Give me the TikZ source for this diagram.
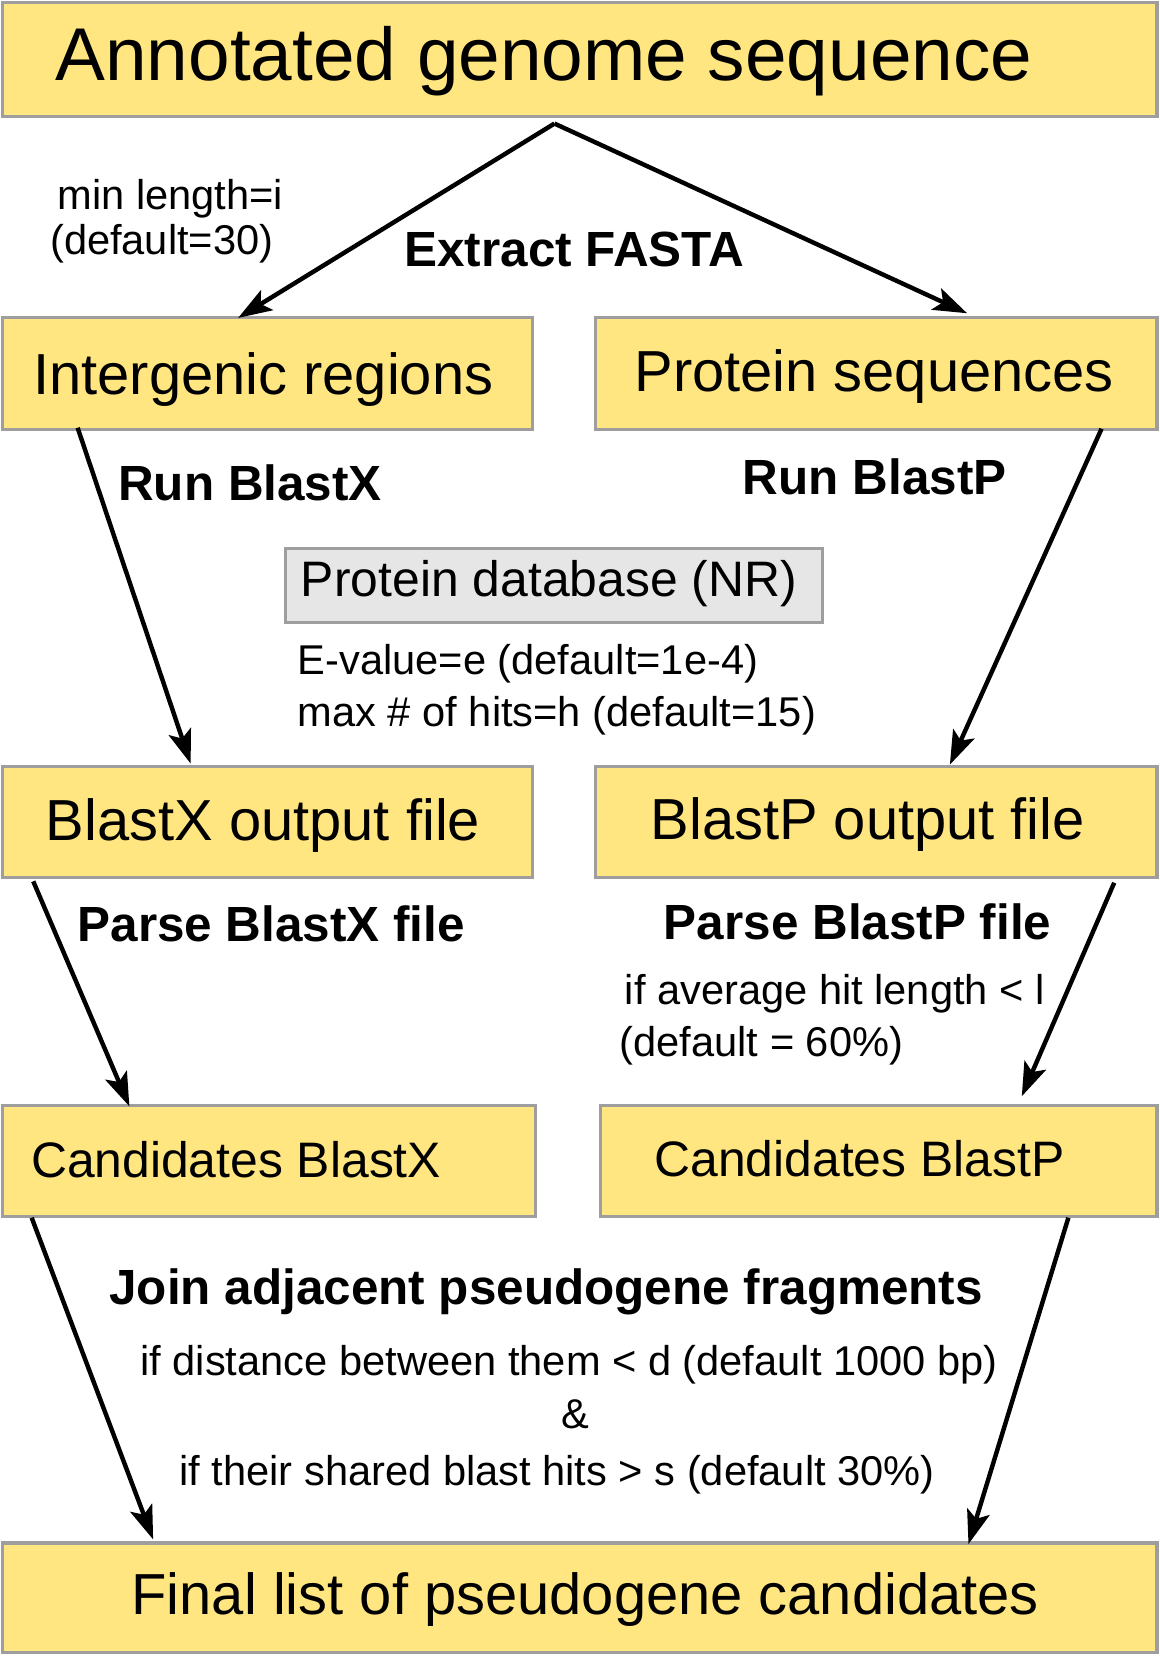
\documentclass[tikz,border=0pt]{standalone}
\usepackage{fontspec}
\setmainfont{Liberation Sans}
\usetikzlibrary{fit,calc,arrows.meta}
\definecolor{boxyellow}{HTML}{FFE680}
\definecolor{boxgray}{HTML}{E6E6E6}
\definecolor{edgegray}{HTML}{9E9E9E}
\begin{document}
\begin{tikzpicture}[x=0.5pt,y=-0.5pt,
  box/.style={draw=edgegray,line width=1.5pt,fill=boxyellow,inner sep=0pt,outer sep=0pt,rectangle},
  dbbox/.style={box,fill=boxgray},
  txt/.style={anchor=base west,inner sep=0pt,outer sep=0pt},
  huge/.style={txt,font=\fontsize{35.4}{40}\selectfont},
  big/.style={txt,font=\fontsize{27.4}{32}\selectfont},
  mid/.style={txt,font=\fontsize{23.6}{28}\selectfont},
  small/.style={txt,font=\fontsize{19.7}{24}\selectfont},
  lbl/.style={txt,font=\fontsize{23.4}{28}\selectfont\bfseries},
  arr/.style={line width=2.1pt,-{Stealth[length=16pt,width=11pt,inset=3.5pt]}}
]
\useasboundingbox (0,0) rectangle (1098,1568);
% boxes
\node[box,fit={(2.5,2.5)(1095.5,110.5)}] (title) {};
\node[box,fit={(2.5,301)(504.5,407)}] (intergenic) {};
\node[box,fit={(564,301)(1095.5,407)}] (protein) {};
\node[dbbox,fit={(270,519)(778.5,589.4)}] (db) {};
\node[box,fit={(2.5,726)(504.5,831)}] (blastxout) {};
\node[box,fit={(564,726)(1095.5,831)}] (blastpout) {};
\node[box,fit={(2.5,1046.5)(507,1152)}] (candx) {};
\node[box,fit={(568.5,1046.5)(1095.5,1152)}] (candp) {};
\node[box,fit={(2.5,1461)(1095.5,1565)}] (final) {};
% box texts
\node[huge] (titletext) at (52.5,76) {Annotated genome sequence};
\node[big] (intergenictext) at (31.5,374) {Intergenic regions};
\node[big] (proteintext) at (600.7,370.7) {Protein sequences};
\node[mid] (dbtext) at (285,564.8) {Protein database (NR)};
\node[big] (blastxouttext) at (43.4,796) {BlastX output file};
\node[big] (blastpouttext) at (616,795) {BlastP output file};
\node[mid] (candxtext) at (29.4,1114.7) {Candidates BlastX};
\node[mid] (candptext) at (619.6,1113.8) {Candidates BlastP};
\node[big] (finaltext) at (124.6,1528.6) {Final list of pseudogene candidates};
% labels
\node[lbl] (extract) at (383,252) {Extract FASTA};
\node[small] (minlen) at (54.6,198.8) {min length=i};
\node[small] (def30) at (47.5,241) {(default=30)};
\node[lbl] (runx) at (112,474) {Run BlastX};
\node[lbl] (runp) at (703.5,468.5) {Run BlastP};
\node[small] (evalue) at (282,638.9) {E-value=e (default=1e-4)};
\node[small] (maxhits) at (282,687.8) {max \# of hits=h (default=15)};
\node[lbl] (parsex) at (73.5,891.3) {Parse BlastX file};
\node[lbl] (parsep) at (628.7,889.7) {Parse BlastP file};
\node[small] (avg) at (591.6,951.3) {if average hit length < l};
\node[small] (def60) at (586.8,1000.2) {(default = 60\%)};
\node[lbl] (join) at (103.6,1235.2) {Join adjacent pseudogene fragments};
\node[small] (dist) at (133,1302.4) {if distance between them < d (default 1000 bp)};
\node[small] (amp) at (532,1352.9) {\&};
\node[small] (shared) at (170,1406.5) {if their shared blast hits > s (default 30\%)};
% connectors
\draw[arr] ($(title.south west)+(522.5,6.5)$) -- ($(intergenic.north west)+(223,0)$);
\draw[arr] ($(title.south west)+(522.5,6.5)$) -- ($(protein.north west)+(351.7,-4.4)$);
\draw[arr] ($(intergenic.south west)+(71,-2)$) -- ($(blastxout.north west)+(178,-3)$);
\draw[arr] ($(protein.south west)+(479,-1)$) -- ($(blastpout.north west)+(335.4,-2)$);
\draw[arr] ($(blastxout.south west)+(29,3.5)$) -- ($(candx.north west)+(120,1)$);
\draw[arr] ($(blastpout.south west)+(491,4.8)$) -- ($(candp.north west)+(399,-8.5)$);
\draw[arr] ($(candx.south west)+(27.5,1)$) -- ($(final.north west)+(142.5,-3.4)$);
\draw[arr] ($(candp.south west)+(443.1,1)$) -- ($(final.north west)+(914.5,1)$);
\end{tikzpicture}
\end{document}
